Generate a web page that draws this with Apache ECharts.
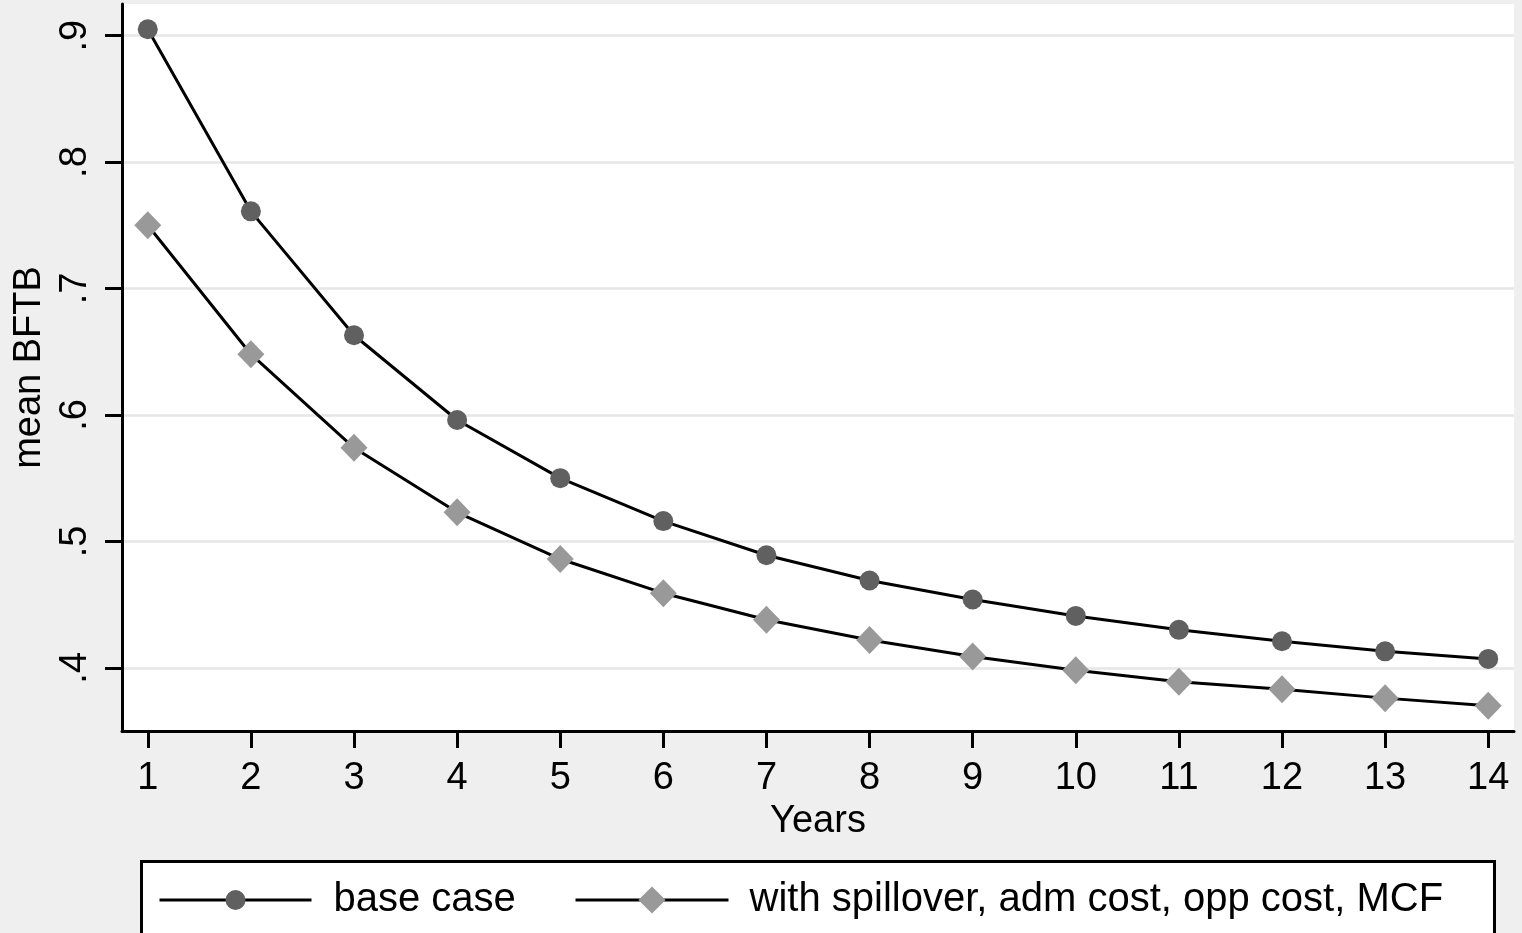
<!DOCTYPE html>
<html>
    <head>
        <meta http-equiv="Content-Type" content="text/html; charset=UTF-8" />
        <title>mean BFTB</title>
        <script type="text/javascript" src="https://cdn.jsdelivr.net/npm/echarts@6/dist/echarts.min.js"></script>
    </head>
    <body style="margin:0; width:1522px; height:933px; background:#efefef;">
        <div id="main" style="width:1522px; height:933px;"></div>
    </body>
    <script>
        var years = [1, 2, 3, 4, 5, 6, 7, 8, 9, 10, 11, 12, 13, 14];
        var baseCase = [0.905, 0.761, 0.663, 0.596, 0.550, 0.516, 0.489, 0.469, 0.454, 0.441, 0.430, 0.421, 0.413, 0.407];
        var withSpill = [0.750, 0.648, 0.574, 0.523, 0.486, 0.459, 0.438, 0.422, 0.409, 0.398, 0.389, 0.383, 0.376, 0.370];
        var yTicks = [0.4, 0.5, 0.6, 0.7, 0.8, 0.9];
        var yTickLabels = ['.4', '.5', '.6', '.7', '.8', '.9'];
        var seriesNames = ['base case', 'with spillover, adm cost, opp cost, MCF'];

        var font = "'Liberation Sans', Arial, sans-serif";

        function pairs(xs, ys) {
            return xs.map(function (x, i) { return [x, ys[i]]; });
        }

        var myChart = echarts.init(document.getElementById('main'));

        option = {
            backgroundColor: '#efefef',
            animation: false,
            textStyle: { fontFamily: font },
            grid: {
                left: 122, right: 8, top: 4, bottom: 202,
                show: true, backgroundColor: '#ffffff', borderWidth: 0
            },
            graphic: [{
                type: 'rect',
                left: 140, top: 860,
                shape: { width: 1353, height: 100 },
                style: { fill: '#ffffff', stroke: '#000000', lineWidth: 3 },
                z: -1
            }],
            legend: [{
                data: [seriesNames[0]],
                left: 158, top: 880, padding: 0,
                itemWidth: 152, itemHeight: 25,
                lineStyle: { width: 3 },
                textStyle: { fontSize: 40, color: '#000', fontFamily: font, padding: [0, 0, 0, 17] }
            }, {
                data: [seriesNames[1]],
                left: 574, top: 880, padding: 0,
                itemWidth: 153, itemHeight: 34,
                lineStyle: { width: 3 },
                textStyle: { fontSize: 40, color: '#000', fontFamily: font, padding: [0, 0, 0, 16] }
            }],
            xAxis: {
                type: 'value',
                min: 0.75,
                max: 14.25,
                name: 'Years',
                nameLocation: 'middle',
                nameGap: 65,
                nameTextStyle: { fontSize: 38, color: '#000', fontFamily: font },
                axisLine: { show: true, lineStyle: { color: '#000', width: 3 } },
                axisTick: { show: true, length: 17, lineStyle: { color: '#000', width: 3 }, customValues: years },
                axisLabel: { fontSize: 38, color: '#000', margin: 29, customValues: years, fontFamily: font },
                splitLine: { show: false }
            },
            yAxis: {
                type: 'value',
                min: 0.35,
                max: 0.925,
                name: 'mean BFTB',
                nameLocation: 'middle',
                nameGap: 73,
                nameTextStyle: { fontSize: 38, color: '#000', fontFamily: font },
                axisLine: { show: true, lineStyle: { color: '#000', width: 3 } },
                axisTick: { show: true, length: 17, lineStyle: { color: '#000', width: 3 }, customValues: yTicks },
                axisLabel: {
                    fontSize: 38, color: '#000', margin: 27, rotate: 90, fontFamily: font,
                    customValues: yTicks,
                    formatter: function (v) {
                        var i = yTicks.findIndex(function (t) { return Math.abs(t - v) < 1e-6; });
                        return i >= 0 ? yTickLabels[i] : '';
                    }
                },
                splitLine: { show: true, lineStyle: { color: '#e6e6e6', width: 2.5 } }
            },
            series: [{
                name: seriesNames[0],
                type: 'line',
                data: pairs(years, baseCase),
                symbol: 'circle',
                symbolSize: 20,
                itemStyle: { color: '#606060' },
                lineStyle: { color: '#000', width: 3 }
            }, {
                name: seriesNames[1],
                type: 'line',
                data: pairs(years, withSpill),
                symbol: 'diamond',
                symbolSize: [27, 28],
                itemStyle: { color: '#999999' },
                lineStyle: { color: '#000', width: 3 }
            }]
        };

        myChart.setOption(option);
    </script>
</html>
